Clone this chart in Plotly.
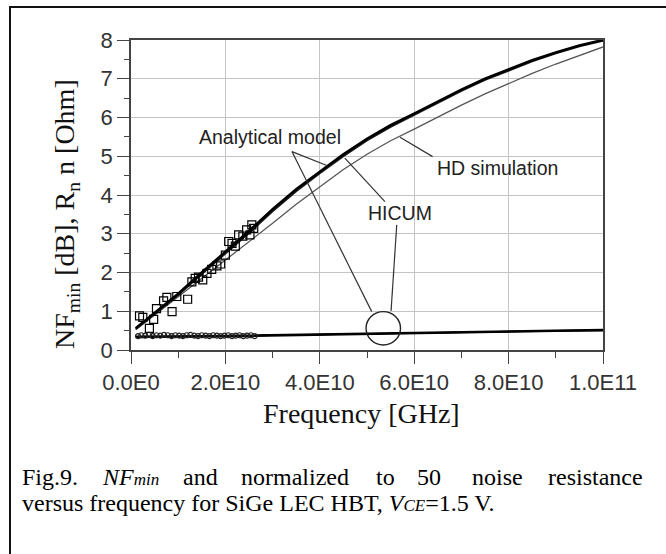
import plotly.graph_objects as go

# ---------------- data ----------------
# frequency in units of 1E10 Hz for model curves
f_model = [0.1, 0.5, 1.0, 1.5, 2.0, 2.5, 3.0, 3.5, 4.0, 4.5, 5.0, 5.5, 6.0, 6.5, 7.0, 7.5, 8.0, 8.5, 9.0, 9.5, 10.0]
nf_analytical = [0.56, 0.95, 1.45, 2.0, 2.53, 3.07, 3.63, 4.15, 4.6, 5.05, 5.45, 5.8, 6.1, 6.42, 6.72, 7.0, 7.25, 7.48, 7.68, 7.86, 8.0]
nf_hicum = [0.54, 0.93, 1.42, 1.96, 2.49, 3.02, 3.58, 4.1, 4.56, 5.0, 5.41, 5.76, 6.07, 6.39, 6.69, 6.97, 7.22, 7.45, 7.66, 7.84, 7.98]
nf_hd = [0.52, 0.9, 1.36, 1.85, 2.33, 2.8, 3.27, 3.76, 4.22, 4.66, 5.05, 5.4, 5.7, 6.02, 6.32, 6.61, 6.88, 7.14, 7.38, 7.61, 7.82]

rn_analytical = [0.35, 0.35, 0.36, 0.36, 0.37, 0.38, 0.38, 0.39, 0.40, 0.41, 0.42, 0.43, 0.44, 0.45, 0.46, 0.47, 0.48, 0.49, 0.50, 0.51, 0.52]
rn_hicum = [0.33, 0.34, 0.34, 0.35, 0.35, 0.36, 0.37, 0.38, 0.39, 0.40, 0.41, 0.42, 0.43, 0.44, 0.45, 0.46, 0.47, 0.48, 0.49, 0.50, 0.51]
rn_hd = [0.34, 0.34, 0.35, 0.35, 0.36, 0.37, 0.38, 0.38, 0.39, 0.40, 0.41, 0.42, 0.43, 0.44, 0.45, 0.46, 0.47, 0.48, 0.49, 0.49, 0.50]

# measured NFmin (squares)
f_meas_nf = [0.18, 0.25, 0.39, 0.48, 0.54, 0.69, 0.76, 0.87, 0.97, 1.20, 1.29, 1.36, 1.43, 1.52, 1.61, 1.71,
             1.82, 1.90, 2.00, 2.07, 2.14, 2.21, 2.28, 2.37, 2.45, 2.52, 2.56, 2.60]
nf_meas = [0.88, 0.84, 0.56, 0.79, 1.07, 1.27, 1.36, 0.99, 1.38, 1.31, 1.76, 1.85, 1.88, 1.81, 1.98, 2.08,
           2.17, 2.22, 2.45, 2.80, 2.75, 2.68, 2.97, 2.94, 3.10, 2.97, 3.23, 3.14]

# measured Rn (circles)
f_meas_rn = [0.15, 0.22, 0.30, 0.38, 0.46, 0.54, 0.62, 0.70, 0.78, 0.86, 0.94, 1.02, 1.10, 1.18, 1.26, 1.34,
             1.42, 1.50, 1.58, 1.66, 1.74, 1.82, 1.90, 1.98, 2.06, 2.14, 2.22, 2.30, 2.38, 2.46, 2.54, 2.62]
rn_meas = [0.36, 0.38, 0.37, 0.39, 0.36, 0.38, 0.37, 0.39, 0.38, 0.36, 0.38, 0.37, 0.36, 0.38, 0.39, 0.37,
           0.36, 0.38, 0.37, 0.36, 0.38, 0.37, 0.36, 0.37, 0.38, 0.36, 0.37, 0.38, 0.36, 0.37, 0.38, 0.36]

xtick_vals = [0.0, 2.0, 4.0, 6.0, 8.0, 10.0]
xtick_text = ["0.0E0", "2.0E10", "4.0E10", "6.0E10", "8.0E10", "1.0E11"]
ytick_vals = [0, 1, 2, 3, 4, 5, 6, 7, 8]

caption_line1 = ["Fig.9.", "<i>NF<span style='font-size:17px'>min</span></i>", "and", "normalized",
                 "to", "50", "noise", "resistance"]
caption_line2 = "versus frequency for SiGe LEC HBT, <i>V<span style='font-size:17px'>CE</span></i>=1.5 V."

SCALE = 1e10
def hz(lst):
    return [v * SCALE for v in lst]

# ---------------- figure ----------------
W, H = 666, 554
L, R, T, B = 131, 603, 40, 350   # plot area in pixels

def px(p):
    return (p - L) / (R - L)

def py(p):
    return (B - p) / (B - T)

CAP_SIZE = 24
# approximate Times advance widths (per 1000 em) for justifying the caption line
TIMES = {'F': 556, 'i': 278, 'g': 500, '.': 250, '9': 500, 'a': 444, 'n': 500, 'd': 500, 'o': 500,
         'r': 333, 'm': 778, 'l': 278, 'z': 444, 'e': 444, 't': 278, '5': 500, '0': 500, 's': 389,
         'c': 444}
def word_width(w, size=CAP_SIZE):
    if w.startswith("<i>NF"):
        base = (667 + 611) * size / 1000 + (722 + 278 + 500) * 17 / 1000
    else:
        base = sum(TIMES.get(ch, 500) for ch in w) * size / 1000
    return base * 1.065

fig = go.Figure()

fig.add_trace(go.Scatter(x=hz(f_model), y=nf_hd, mode="lines",
                         line=dict(color="#555555", width=1.3), name="HD simulation"))
fig.add_trace(go.Scatter(x=hz(f_model), y=nf_hicum, mode="lines",
                         line=dict(color="#222222", width=2), name="HICUM"))
fig.add_trace(go.Scatter(x=hz(f_model), y=nf_analytical, mode="lines",
                         line=dict(color="black", width=2.6), name="Analytical model"))

fig.add_trace(go.Scatter(x=hz(f_model), y=rn_hd, mode="lines",
                         line=dict(color="#444444", width=1.5), name="Rn HD"))
fig.add_trace(go.Scatter(x=hz(f_model), y=rn_hicum, mode="lines",
                         line=dict(color="black", width=2), name="Rn HICUM"))
fig.add_trace(go.Scatter(x=hz(f_model), y=rn_analytical, mode="lines",
                         line=dict(color="black", width=2), name="Rn analytical"))

fig.add_trace(go.Scatter(x=hz(f_meas_nf), y=nf_meas, mode="markers",
                         marker=dict(symbol="square-open", size=8, color="black", line=dict(width=1.2)),
                         name="NFmin meas"))
fig.add_trace(go.Scatter(x=hz(f_meas_rn), y=rn_meas, mode="markers",
                         marker=dict(symbol="circle-open", size=5, color="#222222", line=dict(width=1.2)),
                         name="Rn meas"))

axis_common = dict(
    showline=True, linecolor="#444444", linewidth=1.5, mirror=True,
    showgrid=True, gridcolor="#c4c4c4", gridwidth=1.3,
    ticks="outside", ticklen=12, tickwidth=1.3, tickcolor="#444444",
    tickfont=dict(family="Liberation Sans, Arial", size=22, color="#333333"),
    zeroline=False,
)

fig.update_xaxes(range=[0, 10 * SCALE], tickvals=hz(xtick_vals), ticktext=xtick_text,
                 minor=dict(ticks="outside", ticklen=6, tickwidth=1.3, tickcolor="#444444", dtick=SCALE, showgrid=False),
                 **axis_common)
fig.update_yaxes(range=[0, 8], tickvals=ytick_vals,
                 minor=dict(ticks="outside", ticklen=5, tickwidth=1.3, tickcolor="#444444", dtick=0.5, showgrid=False),
                 **axis_common)

lab_font = dict(family="Liberation Sans, Arial", size=19.5, color="#222222")
serif = "Liberation Serif, Times New Roman"

annotations = [
    dict(x=2.95 * SCALE, y=5.50, xref="x", yref="y", text="Analytical model", showarrow=False, font=lab_font,
         xanchor="center", yanchor="middle"),
    dict(x=5.70 * SCALE, y=3.53, xref="x", yref="y", text="HICUM", showarrow=False, font=lab_font,
         xanchor="center", yanchor="middle"),
    dict(x=7.76 * SCALE, y=4.69, xref="x", yref="y", text="HD simulation", showarrow=False, font=lab_font,
         xanchor="center", yanchor="middle"),
    dict(x=px(66), y=py(214), xref="paper", yref="paper", textangle=-90, showarrow=False,
         xanchor="center", yanchor="middle",
         text="NF<sub>min</sub> [dB], R<sub>n</sub> n [Ohm]", font=dict(family=serif, size=28, color="#111111")),
    dict(x=px(361), y=py(413), xref="paper", yref="paper", showarrow=False,
         xanchor="center", yanchor="middle",
         text="Frequency [GHz]", font=dict(family=serif, size=28, color="#111111")),
    dict(x=px(20), y=py(503), xref="paper", yref="paper", xanchor="left", yanchor="middle", showarrow=False,
         text=caption_line2, font=dict(family=serif, size=CAP_SIZE, color="black")),
]

# justified first caption line: spread words between x=20 and x=645
# (the gap after "50" is a little wider: an Ohm sign of the original is not shown)
cap_left, cap_right = 20, 645
widths = [word_width(w) for w in caption_line1]
EXTRA = 0.4
n_gaps = len(caption_line1) - 1 + EXTRA
gap = (cap_right - cap_left - sum(widths)) / n_gaps
xpos = cap_left
for i, (w, wd) in enumerate(zip(caption_line1, widths)):
    last = i == len(caption_line1) - 1
    annotations.append(dict(
        x=px(cap_right if last else xpos), y=py(477), xref="paper", yref="paper",
        xanchor="right" if last else "left", yanchor="middle", showarrow=False,
        text=w, font=dict(family=serif, size=CAP_SIZE, color="black")))
    xpos += wd + gap * ((1 + EXTRA) if w == "50" else 1.0)

line_style = dict(color="#333333", width=1.2)
shapes = [
    # leader lines
    dict(type="line", xref="x", yref="y", x0=3.41 * SCALE, y0=5.12, x1=4.15 * SCALE, y1=4.76, line=line_style),
    dict(type="line", xref="x", yref="y", x0=3.41 * SCALE, y0=5.12, x1=5.10 * SCALE, y1=0.99, line=line_style),
    dict(type="line", xref="x", yref="y", x0=5.38 * SCALE, y0=3.83, x1=4.53 * SCALE, y1=4.95, line=line_style),
    dict(type="line", xref="x", yref="y", x0=5.63 * SCALE, y0=3.23, x1=5.51 * SCALE, y1=1.01, line=line_style),
    dict(type="line", xref="x", yref="y", x0=6.39 * SCALE, y0=4.99, x1=5.70 * SCALE, y1=5.49, line=line_style),
    # circle highlighting the Rn curves
    dict(type="circle", xref="x", yref="y", x0=4.98 * SCALE, x1=5.71 * SCALE, y0=0.13, y1=0.99,
         line=dict(color="#222222", width=1.4)),
    # outer frame
    dict(type="rect", xref="paper", yref="paper", x0=px(10), x1=px(720), y0=py(7), y1=py(620),
         line=dict(color="#111111", width=2), layer="below"),
]

fig.update_layout(
    width=W, height=H,
    margin=dict(l=L, r=W - R, t=T, b=H - B),
    paper_bgcolor="white", plot_bgcolor="white",
    showlegend=False,
    annotations=annotations,
    shapes=shapes,
)

fig.write_html("out.html")
